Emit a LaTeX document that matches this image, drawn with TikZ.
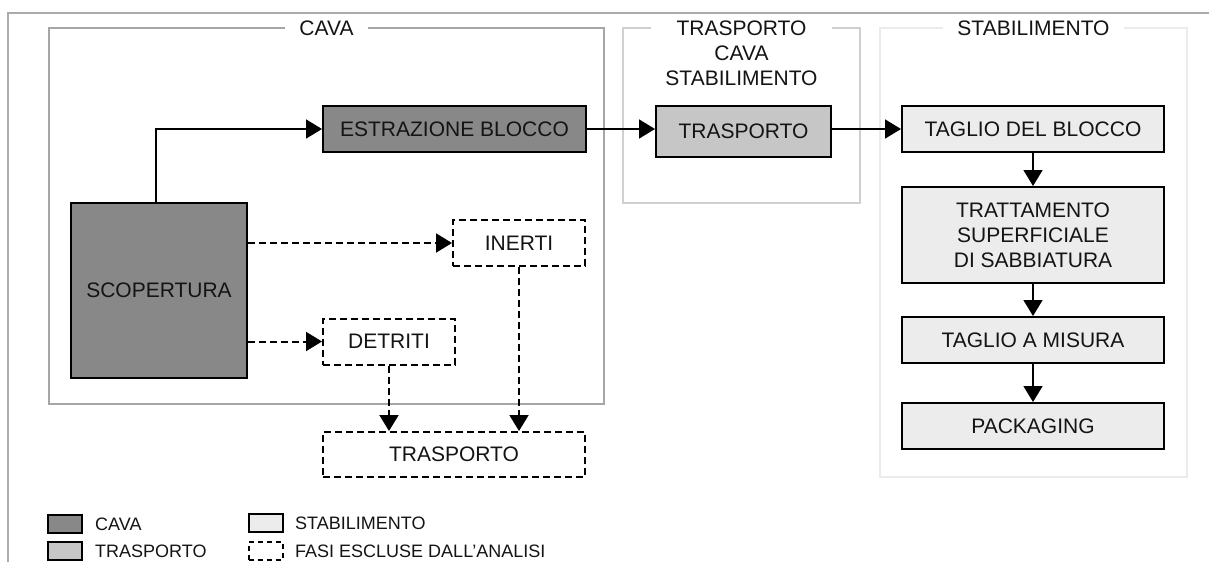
\documentclass[tikz,border=0pt]{standalone}
\usepackage{fontspec}
\setmainfont{Liberation Sans}
\usetikzlibrary{arrows.meta}

\definecolor{cavafill}{HTML}{888888}
\definecolor{trasfill}{HTML}{C6C6C6}
\definecolor{stabfill}{HTML}{ECECEC}
\definecolor{inkgray}{HTML}{141414}
\definecolor{framegray}{HTML}{ABABAB}
\definecolor{cavaline}{HTML}{A6A6A6}
\definecolor{trasline}{HTML}{D0D0D0}
\definecolor{stabline}{HTML}{EBEBEB}

\newcommand{\phasefont}{\fontsize{21}{25}\selectfont}
\newcommand{\legendfont}{\fontsize{18}{22}\selectfont}

\begin{document}
\begin{tikzpicture}[x=1pt, y=-1pt,
  box/.style={draw=black, line width=2pt, inner sep=0pt, minimum height=46pt,
    text=inkgray, font=\phasefont},
  cavabox/.style={box, fill=cavafill},
  trasbox/.style={box, fill=trasfill},
  stabbox/.style={box, fill=stabfill, minimum width=262pt},
  skipbox/.style={box, fill=white, dash pattern=on 7pt off 4pt},
  flow/.style={line width=1.7pt, -{Triangle[length=16pt,width=19pt]}},
  skipflow/.style={flow, line width=2pt, dash pattern=on 7pt off 4pt},
  area/.style={line width=2pt},
  areatitle/.style={fill=white, inner xsep=14pt, inner ysep=0pt, font=\phasefont,
    text=inkgray, align=center},
  keybox/.style={draw=black, line width=2pt, minimum width=34pt, minimum height=18pt,
    inner sep=0pt},
  keytext/.style={anchor=west, inner sep=0pt, font=\legendfont, text=inkgray}]
\useasboundingbox (0,0) rectangle (1209,562);

% outer frame
\draw[framegray, line width=2pt] (8,562) -- (8,13) -- (1209,13);

% areas
\draw[area, cavaline] (49,28) rectangle (604,404);
\draw[area, trasline] (623,28) rectangle (860,203);
\draw[area, stabline] (880,28) rectangle (1187,477);
\node[areatitle] (tcava) at (326.5,28) {CAVA};
\node[areatitle, anchor=north] (ttras) at (741.5,20.5) {TRASPORTO\\CAVA\\STABILIMENTO};
\node[areatitle] (tstab) at (1033.5,28) {STABILIMENTO};

% cava
\node[cavabox, minimum width=263pt] (estr) at (454.5,129) {ESTRAZIONE BLOCCO};
\node[cavabox, minimum width=176pt, minimum height=175pt] (scop) at (159,290.5) {SCOPERTURA};
\node[skipbox, minimum width=132pt] (inerti) at (519,243) {INERTI};
\node[skipbox, minimum width=132pt] (detriti) at (389,341.5) {DETRITI};
\node[skipbox, minimum width=262pt, minimum height=45pt] (tresc) at (454,454.5) {TRASPORTO};

% trasporto
\node[trasbox, minimum width=175pt, minimum height=51pt] (trasp) at (743.5,131.5) {TRASPORTO};

% stabilimento
\node[stabbox] (taglio) at (1033,129) {TAGLIO DEL BLOCCO};
\node[stabbox, minimum height=96pt, align=center] (tratt) at (1033,235)
  {TRATTAMENTO\\SUPERFICIALE\\DI SABBIATURA};
\node[stabbox] (misura) at (1033,340) {TAGLIO A MISURA};
\node[stabbox] (pack) at (1033,426) {PACKAGING};

% connectors
\draw[flow] ([xshift=-3pt]scop.north) |- (estr.west);
\draw[flow] (estr.east) -- (estr.east -| trasp.west);
\draw[flow] (taglio.west -| trasp.east) -- (taglio.west);
\draw[flow] (taglio) -- (tratt);
\draw[flow] (tratt) -- (misura);
\draw[flow] (misura) -- (pack);
\draw[skipflow] (scop.east |- inerti) -- (inerti.west);
\draw[skipflow] (scop.east |- detriti) -- (detriti.west);
\draw[skipflow] (detriti.south) -- (detriti.south |- tresc.north);
\draw[skipflow] (inerti.south) -- (inerti.south |- tresc.north);

% legend
\node[keybox, fill=cavafill] (kcava) at (65,524) {};
\node[keybox, fill=trasfill] (ktras) at (65,551) {};
\node[keybox, fill=stabfill] (kstab) at (265.5,523) {};
\node[keybox, dash pattern=on 5pt off 4pt] (kskip) at (265.5,551) {};
\node[keytext] (lcava) at (95,524) {CAVA};
\node[keytext] (ltras) at (95,551) {TRASPORTO};
\node[keytext] (lstab) at (295,523) {STABILIMENTO};
\node[keytext] (lskip) at (295,551) {FASI ESCLUSE DALL'ANALISI};
\end{tikzpicture}
\end{document}
